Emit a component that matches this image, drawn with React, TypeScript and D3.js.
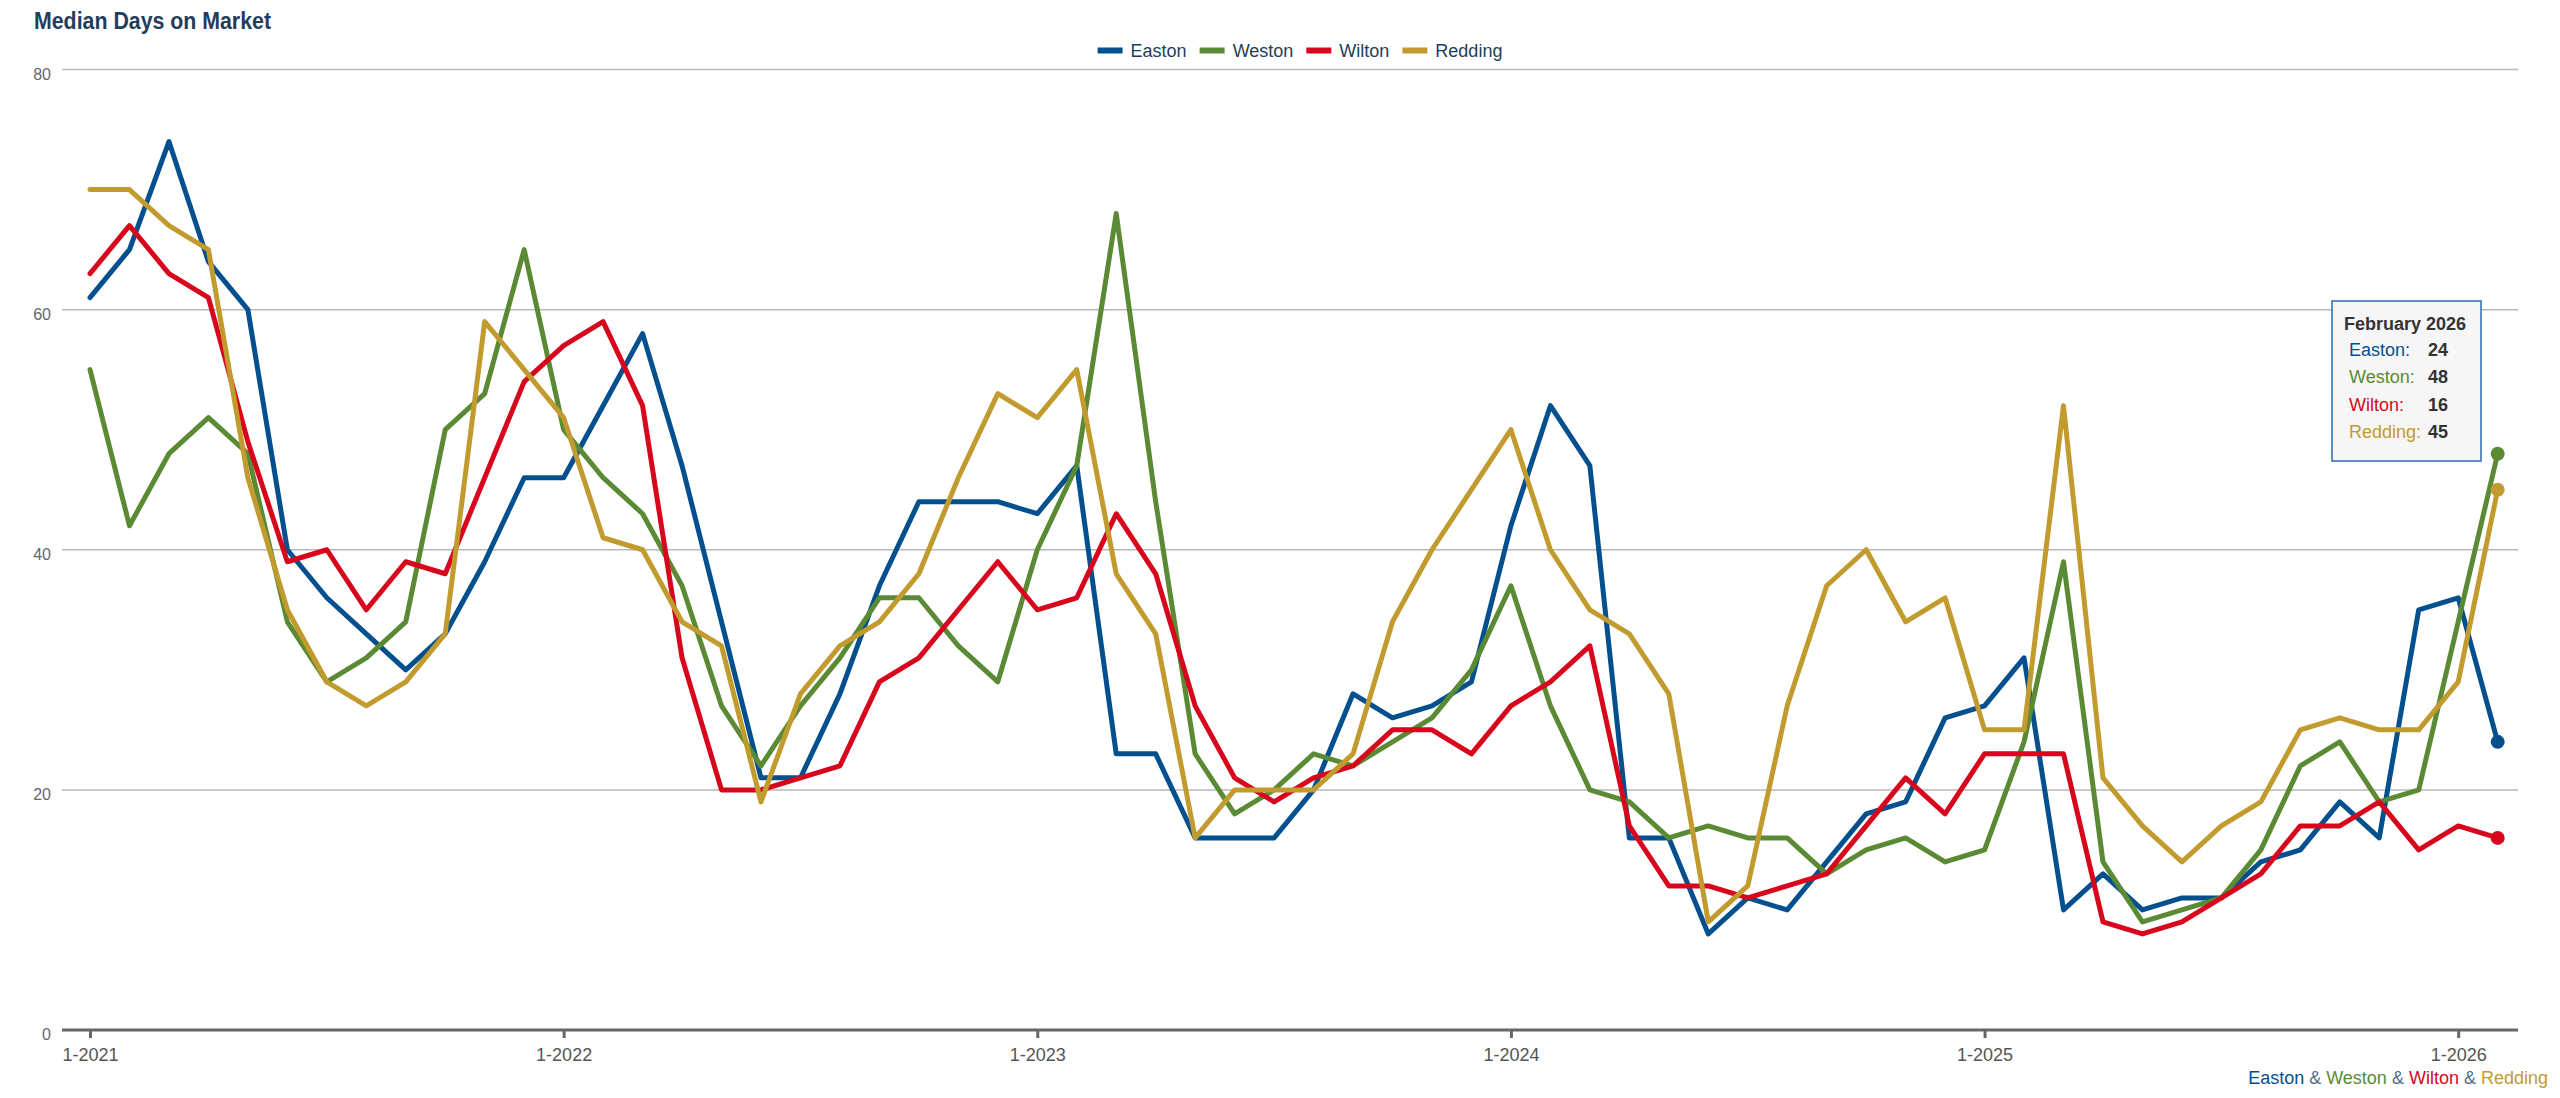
import { useEffect, useRef } from "react";
import * as d3 from "d3";

// monthly values, Jan 2021 .. Feb 2026
const easton = [
  61, 65, 74, 64, 60, 40, 36, 33, 30, 33, 39, 46, 46, 52, 58, 47, 34, 21, 21, 28,
  37, 44, 44, 44, 43, 47, 23, 23, 16, 16, 16, 20, 28, 26, 27, 29, 42, 52, 47, 16,
  16, 8, 11, 10, 14, 18, 19, 26, 27, 31, 10, 13, 10, 11, 11, 14, 15, 19, 16, 35,
  36, 24,
];
const weston = [
  55, 42, 48, 51, 48, 34, 29, 31, 34, 50, 53, 65, 50, 46, 43, 37, 27, 22, 27, 31,
  36, 36, 32, 29, 40, 47, 68, 44, 23, 18, 20, 23, 22, 24, 26, 30, 37, 27, 20, 19,
  16, 17, 16, 16, 13, 15, 16, 14, 15, 24, 39, 14, 9, 10, 11, 15, 22, 24, 19, 20,
  34, 48,
];
const wilton = [
  63, 67, 63, 61, 49, 39, 40, 35, 39, 38, 46, 54, 57, 59, 52, 31, 20, 20, 21, 22,
  29, 31, 35, 39, 35, 36, 43, 38, 27, 21, 19, 21, 22, 25, 25, 23, 27, 29, 32, 17,
  12, 12, 11, 12, 13, 17, 21, 18, 23, 23, 23, 9, 8, 9, 11, 13, 17, 17, 19, 15,
  17, 16,
];
const redding = [
  70, 70, 67, 65, 46, 35, 29, 27, 29, 33, 59, 55, 51, 41, 40, 34, 32, 19, 28, 32,
  34, 38, 46, 53, 51, 55, 38, 33, 16, 20, 20, 20, 23, 34, 40, 45, 50, 40, 35, 33,
  28, 9, 12, 27, 37, 40, 34, 36, 25, 25, 52, 21, 17, 14, 17, 19, 25, 26, 25, 25,
  29, 45,
];

const seriesNames = ["Easton", "Weston", "Wilton", "Redding"];
const seriesColors = ["#04508f", "#5b8a34", "#d8061c", "#c29b2f"];
const seriesValues = [easton, weston, wilton, redding];

const startYear = 2021;
const yearTicks = [0, 12, 24, 36, 48, 60];
const yTicks = [0, 20, 40, 60, 80];
const tooltipTitle = "February 2026";
const chartTitle = "Median Days on Market";

const W = 2560;
const H = 1098;

const App = () => {
  const ref = useRef<SVGSVGElement>(null);

  useEffect(() => {
    const svg = d3.select(ref.current);
    svg.selectAll("*").remove();

    const font = "'Liberation Sans', Arial, sans-serif";
    const left = 62;
    const right = 2518;
    const n = easton.length;

    const x = d3.scaleLinear().domain([0, n - 1]).range([90, 90 + (n - 1) * 39.47]);
    const y = d3.scaleLinear().domain([0, 80]).range([1030, 69.5]);

    svg
      .append("text")
      .attr("x", 34)
      .attr("y", 29)
      .attr("font-family", font)
      .attr("font-size", 23)
      .attr("font-weight", "bold")
      .attr("fill", "#1f3d5c")
      .attr("textLength", 237)
      .attr("lengthAdjust", "spacingAndGlyphs")
      .text(chartTitle);

    // legend
    const legend = svg.append("g");
    let cx = 0;
    seriesNames.forEach((name, i) => {
      const g = legend.append("g").attr("transform", `translate(${cx},0)`);
      g.append("line")
        .attr("x1", 0)
        .attr("x2", 25)
        .attr("y1", 50.5)
        .attr("y2", 50.5)
        .attr("stroke", seriesColors[i])
        .attr("stroke-width", 6);
      const t = g
        .append("text")
        .attr("x", 33)
        .attr("y", 57)
        .attr("font-family", font)
        .attr("font-size", 18)
        .attr("fill", "#1f3d5c")
        .text(name);
      const w = (t.node() as SVGTextElement).getComputedTextLength();
      cx += 33 + w + 13;
    });
    const legendW = cx - 13;
    legend.attr("transform", `translate(${1300 - legendW / 2},0)`);

    // grid
    svg
      .append("g")
      .selectAll("line")
      .data(yTicks.filter((d) => d > 0))
      .join("line")
      .attr("x1", left)
      .attr("x2", right)
      .attr("y1", (d) => y(d))
      .attr("y2", (d) => y(d))
      .attr("stroke", "#b8b8b8")
      .attr("stroke-width", 1.5);

    svg
      .append("g")
      .selectAll("text")
      .data(yTicks)
      .join("text")
      .attr("x", 51)
      .attr("y", (d) => y(d) + 10)
      .attr("text-anchor", "end")
      .attr("font-family", font)
      .attr("font-size", 16)
      .attr("fill", "#666")
      .text((d) => d);

    // x axis
    const axis = svg
      .append("g")
      .attr("transform", `translate(0,${y(0)})`)
      .call(
        d3
          .axisBottom(x)
          .tickValues(yearTicks)
          .tickFormat((d) => `1-${startYear + Number(d) / 12}`)
          .tickSize(8)
          .tickPadding(10),
      );
    axis.select(".domain").remove();
    axis.selectAll(".tick line").attr("stroke", "#666").attr("stroke-width", 3);
    axis
      .selectAll(".tick text")
      .attr("font-family", font)
      .attr("font-size", 18)
      .attr("fill", "#555");
    svg
      .append("line")
      .attr("x1", left)
      .attr("x2", right)
      .attr("y1", y(0))
      .attr("y2", y(0))
      .attr("stroke", "#666")
      .attr("stroke-width", 3);

    // lines
    const line = d3
      .line<number>()
      .x((_, i) => x(i))
      .y((d) => y(d));

    seriesValues.forEach((vals, i) => {
      svg
        .append("path")
        .datum(vals)
        .attr("d", line)
        .attr("fill", "none")
        .attr("stroke", seriesColors[i])
        .attr("stroke-width", 5)
        .attr("stroke-linejoin", "round")
        .attr("stroke-linecap", "round");
    });

    seriesValues.forEach((vals, i) => {
      svg
        .append("circle")
        .attr("cx", x(n - 1))
        .attr("cy", y(vals[n - 1]))
        .attr("r", 7)
        .attr("fill", seriesColors[i]);
    });

    // tooltip
    const tip = svg.append("g").attr("transform", "translate(2332,301)");
    tip
      .append("rect")
      .attr("width", 149)
      .attr("height", 160)
      .attr("fill", "#f6f6f6")
      .attr("stroke", "#2d6cad")
      .attr("stroke-width", 1.5);
    tip
      .append("text")
      .attr("x", 12)
      .attr("y", 29)
      .attr("font-family", font)
      .attr("font-size", 18)
      .attr("font-weight", "bold")
      .attr("fill", "#333")
      .text(tooltipTitle);
    seriesNames.forEach((name, i) => {
      const yy = 55 + i * 27.4;
      tip
        .append("text")
        .attr("x", 17)
        .attr("y", yy)
        .attr("font-family", font)
        .attr("font-size", 18)
        .attr("fill", seriesColors[i])
        .text(`${name}:`);
      tip
        .append("text")
        .attr("x", 96)
        .attr("y", yy)
        .attr("font-family", font)
        .attr("font-size", 18)
        .attr("font-weight", "bold")
        .attr("fill", "#333")
        .text(seriesValues[i][n - 1]);
    });

    // footer
    const foot = svg
      .append("text")
      .attr("x", 2548)
      .attr("y", 1083.5)
      .attr("text-anchor", "end")
      .attr("font-family", font)
      .attr("font-size", 18);
    seriesNames.forEach((name, i) => {
      if (i > 0) foot.append("tspan").attr("fill", "#4a6d8c").text(" & ");
      foot.append("tspan").attr("fill", seriesColors[i]).text(name);
    });
  }, []);

  return (
    <div style={{ position: "fixed", left: 0, top: 0 }}>
      <svg ref={ref} width={W} height={H} style={{ display: "block", background: "#fff" }} />
    </div>
  );
};

export default App;
